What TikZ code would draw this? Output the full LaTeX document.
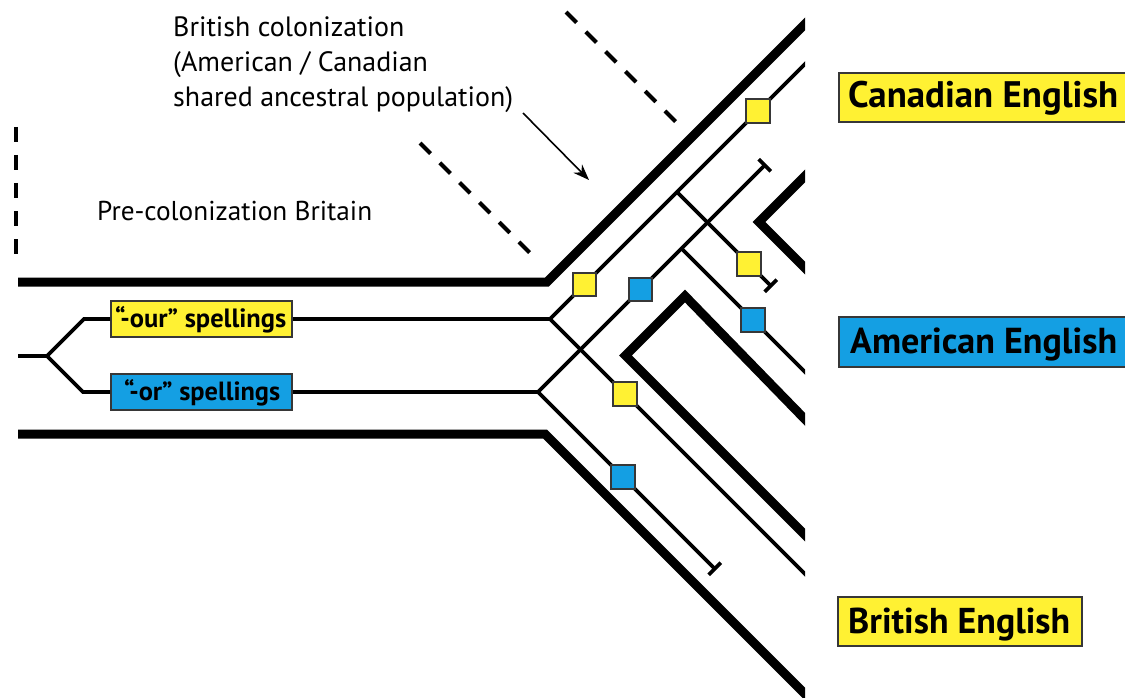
\documentclass[tikz,border=0pt]{standalone}
\usepackage{fontspec}
\setmainfont{PT Sans}
\usetikzlibrary{arrows.meta}
\definecolor{cyel}{RGB}{255,241,51}
\definecolor{cblu}{RGB}{20,159,227}
\definecolor{cbord}{RGB}{55,55,55}
\newcommand\fitfs[2]{\setbox0\hbox{\fontsize{10pt}{12pt}\selectfont #2}\pgfmathsetmacro\myfs{10*#1/\the\wd0}\fontsize{\myfs pt}{\myfs pt}\selectfont}
\newcommand\fitto[2]{\fitfs{#1}{#2}#2}
\tikzset{
  wall/.style={line width=9pt, line join=miter},
  lin/.style={line width=3.6pt},
  dsh/.style={line width=4pt, dash pattern=on 15pt off 13pt},
  sq/.style={draw=cbord, line width=1.6pt, minimum size=23.5pt, inner sep=0pt, fill=#1},
  lab/.style={draw=cbord, line width=2pt, inner sep=0pt, fill=#1},
  txt/.style={inner sep=0pt, anchor=base west},
  tend/.style={-{Bar[width=17pt]}},
}
\begin{document}
\begin{tikzpicture}[x=1pt,y=-1pt]
\useasboundingbox (0,0) rectangle (1125,698);
\clip (0,0) rectangle (1125,698);

% spelling boxes
\node[lab=cyel, minimum width=181pt, minimum height=36pt] (ourbox) at (201.5,319) {};
\node[lab=cblu, minimum width=181pt, minimum height=36pt] (orbox) at (201.5,392) {};

% coordinates
\coordinate (T0) at (18,356);
\coordinate (T1) at (47,356);
\coordinate (UB) at (84,319);
\coordinate (LB) at (83,392);
\coordinate (Q) at (550,319);
\coordinate (Qu) at (820,49);
\coordinate (Qd) at (820,589);
\coordinate (QB) at (677,192);
\coordinate (QT) at (772,287);
\coordinate (R) at (538,392);
\coordinate (RT) at (766,164);
\coordinate (RB) at (681.5,248.5);
\coordinate (RBe) at (820,387);
\coordinate (RTd) at (716,570);

\draw[lin] (T0) -- (T1) -- (UB) -- (ourbox.west);
\draw[lin] (T1) -- (LB) -- (orbox.west);
\draw[lin] (ourbox.east) -- (Q);
\draw[lin] (orbox.east) -- (R);

\begin{scope}
\clip (-10,-10) rectangle (805,710);
% tube walls
\draw[wall] (18,282) -- (547,282) -- (830,-1);
\draw[wall] (18,434) -- (545,434) -- (830,719);
\draw[wall] (830,151) -- (759,222) -- (830,293);
\draw[wall] (830,445) -- (685,296) -- (625.5,355.5) -- (830,560);
% lineages
\draw[lin] (Q) -- (Qu);
\draw[lin] (Q) -- (Qd);
\draw[lin,tend] (QB) -- (QT);
\draw[lin,tend] (R) -- (RT);
\draw[lin] (RB) -- (RBe);
\draw[lin,tend] (R) -- (RTd);
% mutation markers
\node[sq=cyel] (y1) at (584.5,284.5) {};
\node[sq=cyel] (y2) at (758,111) {};
\node[sq=cyel] (y3) at (749,264) {};
\node[sq=cyel] (y4) at (625,394) {};
\node[sq=cblu] (b1) at (640.5,289.5) {};
\node[sq=cblu] (b2) at (753,320) {};
\node[sq=cblu] (b3) at (623,477) {};
\end{scope}

% dashed time markers
\coordinate (d1a) at (16,127);
\coordinate (d1b) at (16,255);
\coordinate (d2a) at (420,143);
\coordinate (d2b) at (531,254);
\coordinate (d3a) at (566,12);
\coordinate (d3b) at (677,123);
\draw[dsh] (d1a) -- (d1b);
\draw[dsh] (d2a) -- (d2b);
\draw[dsh] (d3a) -- (d3b);

% arrow
\coordinate (a1) at (523,113);
\coordinate (a2) at (589,180);
\draw[line width=1.6pt, -{Stealth[length=16pt, width=12pt]}] (a1) -- (a2);

% texts
\node[txt] (bc1) at (173,37) {\fitfs{340}{shared ancestral population)}British colonization};
\node[txt] (bc2) at (173,72) {\fitfs{340}{shared ancestral population)}(American / Canadian};
\node[txt] (bc3) at (173,107) {\fitto{340}{shared ancestral population)}};
\node[txt] (pre) at (97,220) {\fitto{275}{Pre-colonization Britain}};
\node[txt] (ourt) at (115,327) {\bfseries\fitto{171}{“-our” spellings}};
\node[txt] (ort) at (124,400) {\bfseries\fitto{156}{“-or” spellings}};

% result labels
\node[lab=cyel, minimum width=300pt, minimum height=49pt, anchor=north west] (canbox) at (838,72) {};
\node[lab=cblu, minimum width=300pt, minimum height=50pt, anchor=north west] (ambox) at (838,316) {};
\node[lab=cyel, minimum width=244pt, minimum height=49pt, anchor=north west] (brbox) at (837,596) {};
\node[txt] (cant) at (848,108) {\bfseries\fitto{270}{Canadian English}};
\node[txt] (amt) at (850,353) {\bfseries\fitto{267}{American English}};
\node[txt] (brt) at (848,633) {\bfseries\fitto{222}{British English}};
\end{tikzpicture}
\end{document}
